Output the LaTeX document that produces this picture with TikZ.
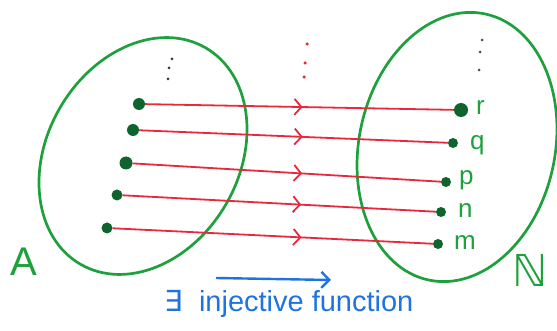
\documentclass[tikz,border=0pt]{standalone}
\usepackage{fontspec}
\newfontfamily\hand{Liberation Sans}
\newfontfamily\dejavu{DejaVu Sans}
\usetikzlibrary{arrows.meta,decorations.markings}
\definecolor{pgreen}{RGB}{30,160,60}
\definecolor{dgreen}{RGB}{15,100,45}
\definecolor{pred}{RGB}{232,40,60}
\definecolor{pblue}{RGB}{30,115,225}
\tikzset{
  setline/.style={pgreen,line width=2.7pt},
  dotnode/.style={circle,fill=dgreen,inner sep=0pt,minimum size=#1},
  maparrow/.style={pred,line width=1.8pt,
    decoration={markings,mark=at position #1 with {\arrow{Straight Barb[length=7pt,width=16pt,line width=1.8pt]}}},
    postaction={decorate}},
  elabel/.style={pgreen,font=\hand\fontsize{26}{28}\selectfont,anchor=west,inner sep=0pt},
  vdot/.style={circle,inner sep=0pt,minimum size=#1},
}
\begin{document}
\begin{tikzpicture}[x=1pt,y=-1pt]
\useasboundingbox (0,0) rectangle (557,331);
% sets
\draw[setline] (143,156) ellipse[x radius=125,y radius=96,rotate=60];
\draw[setline] (457,147) ellipse[x radius=136,y radius=98,rotate=78];
% dots of A
\node[dotnode=12pt] (a1) at (139,104) {};
\node[dotnode=12pt] (a2) at (133,130) {};
\node[dotnode=13pt] (a3) at (126,163) {};
\node[dotnode=11pt] (a4) at (117,195) {};
\node[dotnode=11pt] (a5) at (107,228) {};
% dots of N
\node[dotnode=14pt] (b1) at (461,110) {};
\node[dotnode=10pt] (b2) at (453,143) {};
\node[dotnode=10pt] (b3) at (446,182) {};
\node[dotnode=10pt] (b4) at (441,212) {};
\node[dotnode=10pt] (b5) at (438,244) {};
% maps
\draw[maparrow=0.51] (a1) -- (b1);
\draw[maparrow=0.53] (a2) -- (b2);
\draw[maparrow=0.55] (a3) -- (b3);
\draw[maparrow=0.57] (a4) -- (b4);
\draw[maparrow=0.59] (a5) -- (b5);
% vertical dots
\node[vdot=3pt,fill=black!80] (ad1) at (172,59) {};
\node[vdot=3pt,fill=black!80] (ad2) at (169,68) {};
\node[vdot=3pt,fill=black!80] (ad3) at (168,79) {};
\node[vdot=3.5pt,fill=pred] (md1) at (307,44) {};
\node[vdot=3.5pt,fill=pred] (md2) at (305,63) {};
\node[vdot=3.5pt,fill=pred] (md3) at (304,77) {};
\node[vdot=3pt,fill=black!70] (nd1) at (482,40) {};
\node[vdot=3pt,fill=black!70] (nd2) at (480,52) {};
\node[vdot=3pt,fill=black!70] (nd3) at (479,70) {};
% labels
\node[elabel] (lr) at (476,108) {r};
\node[elabel] (lq) at (470,145) {q};
\node[elabel] (lp) at (459,180) {p};
\node[elabel] (ln) at (458,211) {n};
\node[elabel] (lm) at (454,243) {m};
\node[pgreen,font=\hand\fontsize{40}{42}\selectfont] (A) at (24,262) {A};
\node[pgreen,font=\dejavu\fontsize{44}{46}\selectfont] (N) at (530,270) {ℕ};
% bottom
\coordinate (bs) at (216,278);
\coordinate (be) at (331,280);
\draw[pblue,line width=2.4pt,-{Straight Barb[length=8pt,width=16pt,line width=2.4pt]}] (bs) -- (be);
\node[pblue,font=\hand\fontsize{29}{31}\selectfont,inner sep=0pt] (txt) at (289,304) {\dejavu ∃\hand\ \ injective function};
\end{tikzpicture}
\end{document}
